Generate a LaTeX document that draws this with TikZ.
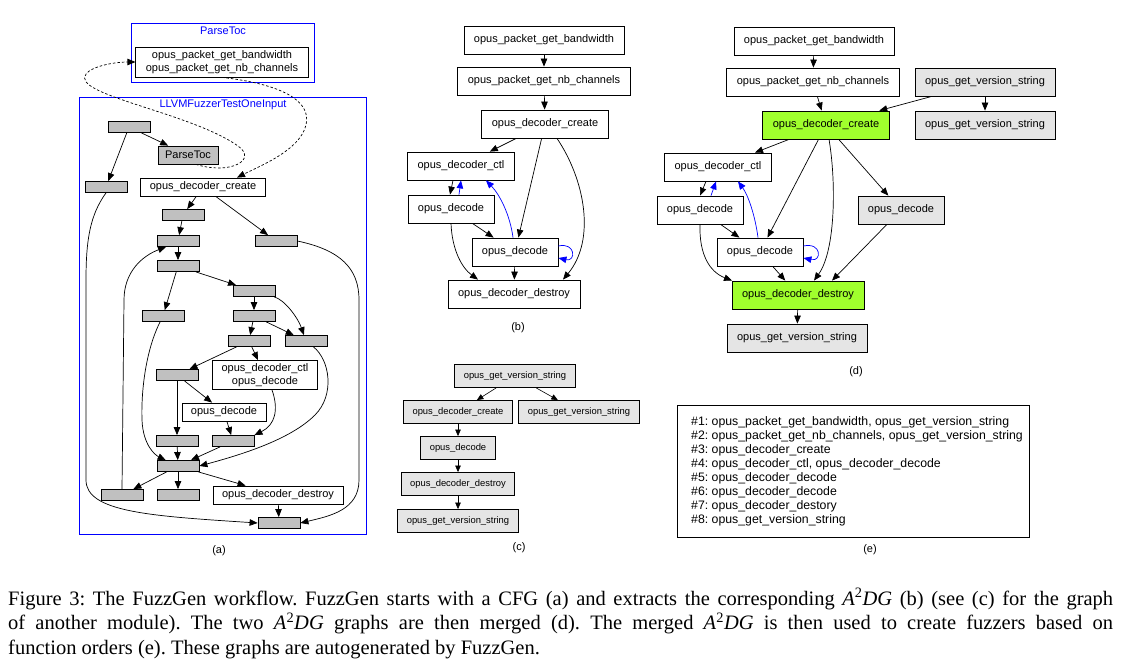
\documentclass[tikz,border=0pt]{standalone}
\usepackage{fontspec}
\setmainfont{Liberation Serif}
\newfontfamily\graphfont{Liberation Sans}
\definecolor{cfggray}{RGB}{192,192,192}
\definecolor{extgray}{RGB}{229,229,229}
\definecolor{hotgreen}{RGB}{160,255,45}
\usepackage{tikz}
\usetikzlibrary{arrows.meta,positioning,calc}
\newcommand{\adg}{\textit{A}\textsuperscript{2}\textit{DG}}

\begin{document}
\frenchspacing
\begin{tikzpicture}[x=1pt, y=-1pt,
    gfont/.style={font=\graphfont\fontsize{11}{13}\selectfont},
    cfgblk/.style={draw, fill=cfggray, line width=0.8pt, minimum width=42pt, minimum height=11pt, inner sep=0pt},
    cfgcall/.style={gfont, draw, fill=cfggray, line width=0.8pt, minimum height=18pt, inner xsep=7pt, inner ysep=0pt},
    cfgfn/.style={gfont, draw, fill=white, line width=0.8pt, minimum height=18pt, inner xsep=9pt, inner ysep=1pt, align=center},
    fn/.style={gfont, draw, fill=white, line width=0.8pt, minimum height=28pt, inner xsep=10pt},
    extfn/.style={fn, fill=extgray},
    hotfn/.style={fn, fill=hotgreen},
    smfn/.style={font=\graphfont\fontsize{9.4}{11}\selectfont, draw, fill=extgray, line width=0.8pt, minimum height=23pt, inner xsep=9pt},
    cluster/.style={draw=blue, line width=0.9pt},
    clustertitle/.style={gfont, text=blue, inner sep=0pt},
    panel/.style={gfont, inner sep=0pt},
    edge/.style={-{Triangle[length=8pt,width=6.5pt]}, line width=0.7pt},
    smedge/.style={-{Triangle[length=6.5pt,width=5.5pt]}, line width=0.6pt},
    backedge/.style={edge, blue},
    calledge/.style={edge, dash pattern=on 2.5pt off 2pt}]
\useasboundingbox (0,0) rectangle (1123,668);

% (a) control flow graph
\draw[cluster] (131,23) rectangle (314,82);
\node[clustertitle] (tocTitle) at (223,31) {ParseToc};
\node[cfgfn, inner xsep=10pt, minimum height=30pt] (cTocFns) at (222,62) {opus\_packet\_get\_bandwidth\\opus\_packet\_get\_nb\_channels};
\draw[cluster] (79,97) rectangle (366,534);
\node[clustertitle] (fuzzTitle) at (223,105) {LLVMFuzzerTestOneInput};

\foreach \n/\x/\y in {c1/129/127, c2/106/187, c3/183/215, c4/178/241, c5/276/241,
    c6/178/266, c7/254/291, c8/163/316, c9/254/316, c10/249/341, c11/306/341,
    c12/177/375, c13/177/441, c14/233/441, c15/178/466, c16/122/495, c17/178/495, c18/279/523}
  \node[cfgblk] (\n) at (\x,\y) {};
\node[cfgcall] (cToc) at (188,155) {ParseToc};
\node[cfgfn] (cCreate) at (203,187) {opus\_decoder\_create};
\node[cfgfn, minimum height=29pt] (cCtl) at (265,375) {opus\_decoder\_ctl\\opus\_decode};
\node[cfgfn] (cDec) at (224,412) {opus\_decode};
\node[cfgfn] (cDestroy) at (278,495) {opus\_decoder\_destroy};
\node[panel] (capA) at (219,551) {(a)};

\foreach \s/\t in {c1/cToc, c1/c2, cCreate/c3, cCreate/c5, c3/c4, c4/c6, c6/c7, c6/c8,
    c7/c9, c9/c10, c9/c11, c10/c12, c10/cCtl, c12/c13, c12/cDec, cDec/c14, c13/c15,
    c14/c15, c15/c16, c15/c17, c15/cDestroy, cDestroy/c18}
  \draw[edge] (\s) -- (\t);
\draw[edge] (c7) .. controls (285,300) and (298,318) .. (c11);
\draw[edge] (c2.south) .. controls (90,215) and (86,240) .. (86,280) -- (86,480) .. controls (86,512) and (150,516) .. (c18.west);
\draw[edge] (c5.east) .. controls (340,250) and (359,268) .. (359,300) -- (359,480) .. controls (359,510) and (330,516) .. (c18.east);
\draw[edge] (c8) .. controls (146,350) and (141,390) .. (142,420) .. controls (143,445) and (155,455) .. (c15);
\draw[edge] (c11) .. controls (330,360) and (335,395) .. (315,415) .. controls (290,440) and (240,455) .. (c15.east);
\draw[edge] ([xshift=7pt]cCtl.south) .. controls (279,410) and (275,425) .. (c14.north east);
\draw[edge] (c16.north) -- (124,300) .. controls (124,272) and (142,256) .. ([xshift=-12pt]c4.south);
\draw[calledge] ([xshift=8pt]cToc.south) .. controls (230,175) and (258,160) .. (238,146) .. controls (190,112) and (70,95) .. (86,74) .. controls (92,66) and (115,62) .. (cTocFns.west);
\draw[calledge] (cTocFns.south) .. controls (280,84) and (312,100) .. (306,125) .. controls (300,150) and (262,165) .. ([xshift=34pt]cCreate.north);

% (b) A2DG of the first module
\node[fn] (b1) at (544,40) {opus\_packet\_get\_bandwidth};
\node[fn] (b2) at (544,81) {opus\_packet\_get\_nb\_channels};
\node[fn] (b3) at (545,124) {opus\_decoder\_create};
\node[fn] (b4) at (461,166) {opus\_decoder\_ctl};
\node[fn] (b5) at (451,209) {opus\_decode};
\node[fn] (b6) at (515,252) {opus\_decode};
\node[fn] (b7) at (514,294) {opus\_decoder\_destroy};
\node[panel] (capB) at (518,328) {(b)};

\foreach \s/\t in {b1/b2, b2/b3, b3/b4, b3/b6, b5/b6, b6/b7}
  \draw[edge] (\s) -- (\t);
\draw[edge] ([xshift=12pt]b3.south) .. controls (585,180) and (596,240) .. ([xshift=49pt]b7.north);
\draw[edge] ([xshift=-8pt]b4.south) -- ([xshift=-1pt]b5.north);
\draw[edge] (b5.south) .. controls (452,250) and (462,268) .. ([xshift=-36pt]b7.north);
\draw[backedge] ([xshift=8pt]b5.north) -- (b4.south);
\draw[backedge] ([xshift=-2pt]b6.north) .. controls (510,215) and (500,195) .. ([xshift=25pt]b4.south);
\draw[backedge] ([yshift=6pt]b6.east) .. controls (576,242) and (576,262) .. ([yshift=-6pt]b6.east);

% (c) A2DG of another module
\node[smfn] (e1) at (515,376) {opus\_get\_version\_string};
\node[smfn] (e2) at (458,412) {opus\_decoder\_create};
\node[smfn] (e3) at (579,412) {opus\_get\_version\_string};
\node[smfn] (e4) at (458,448) {opus\_decode};
\node[smfn] (e5) at (458,484) {opus\_decoder\_destroy};
\node[smfn] (e6) at (458,521) {opus\_get\_version\_string};
\node[panel] (capC) at (519,548) {(c)};

\foreach \s/\t in {e1/e2, e1/e3, e2/e4, e4/e5, e5/e6}
  \draw[smedge] (\s) -- (\t);

% (d) merged A2DG
\node[fn] (d1) at (814,41) {opus\_packet\_get\_bandwidth};
\node[fn] (d2) at (813,82) {opus\_packet\_get\_nb\_channels};
\node[hotfn] (d3) at (826,125) {opus\_decoder\_create};
\node[fn] (d4) at (718,167) {opus\_decoder\_ctl};
\node[fn] (d5) at (700,210) {opus\_decode};
\node[fn] (d6) at (760,252) {opus\_decode};
\node[hotfn] (d7) at (798,295) {opus\_decoder\_destroy};
\node[extfn] (d8) at (797,338) {opus\_get\_version\_string};
\node[extfn] (d9) at (985,82) {opus\_get\_version\_string};
\node[extfn] (d10) at (985,125) {opus\_get\_version\_string};
\node[extfn] (d11) at (901,210) {opus\_decode};
\node[panel] (capD) at (856,372) {(d)};

\foreach \s/\t in {d1/d2, d2/d3, d9/d3, d9/d10, d3/d4, d3/d6, d3/d11, d5/d6, d6/d7, d7/d8}
  \draw[edge] (\s) -- (\t);
\draw[edge] ([xshift=3pt]d3.south) .. controls (836,180) and (836,250) .. ([xshift=16pt]d7.north);
\draw[edge] (d11) -- ([xshift=34pt]d7.north);
\draw[edge] ([xshift=-12pt]d4.south) -- (d5.north);
\draw[edge] (d5.south) .. controls (699,255) and (710,272) .. ([xshift=-66pt]d7.north);
\draw[backedge] ([xshift=11pt]d5.north) -- ([xshift=-2pt]d4.south);
\draw[backedge] ([xshift=-2pt]d6.north) .. controls (755,215) and (748,195) .. ([xshift=20pt]d4.south);
\draw[backedge] ([yshift=6pt]d6.east) .. controls (822,242) and (822,262) .. ([yshift=-6pt]d6.east);

% (e) function orders
\node[draw, line width=0.8pt, anchor=north west, minimum width=352pt, minimum height=132pt] (ordersBox) at (677,405) {};
\node[anchor=west, inner sep=0pt, align=left, font=\graphfont\fontsize{12.3}{14}\selectfont] (orders) at (691,471) {%
  \#1: opus\_packet\_get\_bandwidth, opus\_get\_version\_string\\
  \#2: opus\_packet\_get\_nb\_channels, opus\_get\_version\_string\\
  \#3: opus\_decoder\_create\\
  \#4: opus\_decoder\_ctl, opus\_decoder\_decode\\
  \#5: opus\_decoder\_decode\\
  \#6: opus\_decoder\_decode\\
  \#7: opus\_decoder\_destory\\
  \#8: opus\_get\_version\_string};
\node[panel] (capE) at (870,550) {(e)};

% caption
\node[anchor=north west, inner sep=0pt, align=left, font=\fontsize{20.5}{24.5}\selectfont] (caption) at (8,588) {%
  \makebox[1105pt][s]{Figure 3: The FuzzGen workflow. FuzzGen starts with a CFG (a) and extracts the corresponding \adg{} (b) (see (c) for the graph}\\
  \makebox[1105pt][s]{of another module). The two \adg{} graphs are then merged (d). The merged \adg{} is then used to create fuzzers based on}\\
  function orders (e). These graphs are autogenerated by FuzzGen.};
\end{tikzpicture}
\end{document}
